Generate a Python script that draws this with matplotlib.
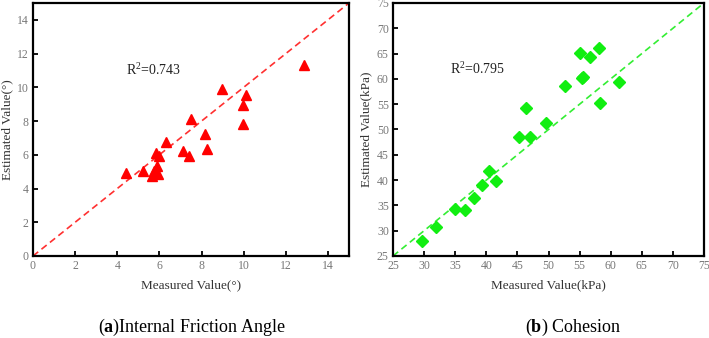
import matplotlib
matplotlib.use("Agg")
import matplotlib.pyplot as plt

# Panel (a): internal friction angle
angle_measured = [4.4, 5.2, 5.65, 5.75, 5.85, 6.0, 5.9, 5.95, 6.3, 7.1, 7.4, 7.5, 8.15, 8.25, 8.95, 9.95, 9.95, 10.1, 12.85]
angle_estimated = [4.95, 5.05, 4.75, 5.05, 6.1, 5.9, 5.35, 4.85, 6.75, 6.25, 5.9, 8.1, 7.25, 6.35, 9.9, 8.95, 7.8, 9.55, 11.3]
angle_ticks = [0, 2, 4, 6, 8, 10, 12, 14]

# Panel (b): cohesion
coh_measured = [29.6, 31.9, 34.9, 36.6, 38.1, 39.3, 40.4, 41.5, 45.2, 46.4, 47.0, 49.6, 52.7, 55.0, 55.4, 55.6, 56.7, 58.1, 58.3, 61.3]
coh_estimated = [27.9, 30.8, 34.2, 34.1, 36.4, 39.0, 41.8, 39.9, 48.5, 54.2, 48.5, 51.3, 58.5, 65.1, 60.1, 60.3, 64.4, 66.2, 55.2, 59.4]
coh_ticks = [25, 30, 35, 40, 45, 50, 55, 60, 65, 70, 75]

plt.rcParams['font.family'] = ['Liberation Serif', 'DejaVu Serif']
plt.rcParams['mathtext.fontset'] = 'custom'
plt.rcParams['mathtext.rm'] = 'Liberation Serif'
plt.rcParams['mathtext.it'] = 'Liberation Serif:italic'
plt.rcParams['mathtext.bf'] = 'Liberation Serif:bold'

fig = plt.figure(figsize=(7.09, 3.38), dpi=100)
ax1 = fig.add_axes([33/709, 1-256/338, 316/709, 253/338])
ax2 = fig.add_axes([393/709, 1-256/338, 311/709, 253/338])

def style(ax, lim, ticks, xl, yl):
    ax.set_xlim(lim)
    ax.set_ylim(lim)
    ax.set_xticks(ticks)
    ax.set_yticks(ticks)
    for s in ax.spines.values():
        s.set_linewidth(1.6)
        s.set_color('black')
    ax.tick_params(direction='in', length=3.5, width=1.3, labelsize=8.5,
                   labelcolor='#777777', pad=3)
    ax.set_xlabel(xl, fontsize=9.5, color='#333333', labelpad=5)
    ax.set_ylabel(yl, fontsize=9.5, color='#333333', labelpad=3)

ax1.plot([0, 15], [0, 15], linestyle=(0, (4, 2.5)), color='#ff3030', lw=1.2)
ax1.plot(angle_measured, angle_estimated, linestyle='none', marker='^',
         color='#ff0000', markersize=7.5)
style(ax1, (0, 15), angle_ticks, 'Measured Value(°)', 'Estimated Value(°)')
ax1.text(4.4, 11.0, r'R$^{\mathregular{2}}$=0.743', fontsize=10, color='#222222', va='center')

ax2.plot([25, 75], [25, 75], linestyle=(0, (4, 2.5)), color='#33ee33', lw=1.2)
ax2.plot(coh_measured, coh_estimated, linestyle='none', marker='D',
         color='#11ee11', markersize=6.5)
style(ax2, (25, 75), coh_ticks, 'Measured Value(kPa)', 'Estimated Value(kPa)')
ax2.text(34.2, 62.0, r'R$^{\mathregular{2}}$=0.795', fontsize=10, color='#222222', va='center')

fig.text(192/709, 1-327/338, r'($\mathbf{a}$)Internal Friction Angle', fontsize=13,
         ha='center', va='center', color='black')
fig.text(573/709, 1-327/338, r'($\mathbf{b}$) Cohesion', fontsize=13,
         ha='center', va='center', color='black')

fig.savefig('out.png', dpi=100)
